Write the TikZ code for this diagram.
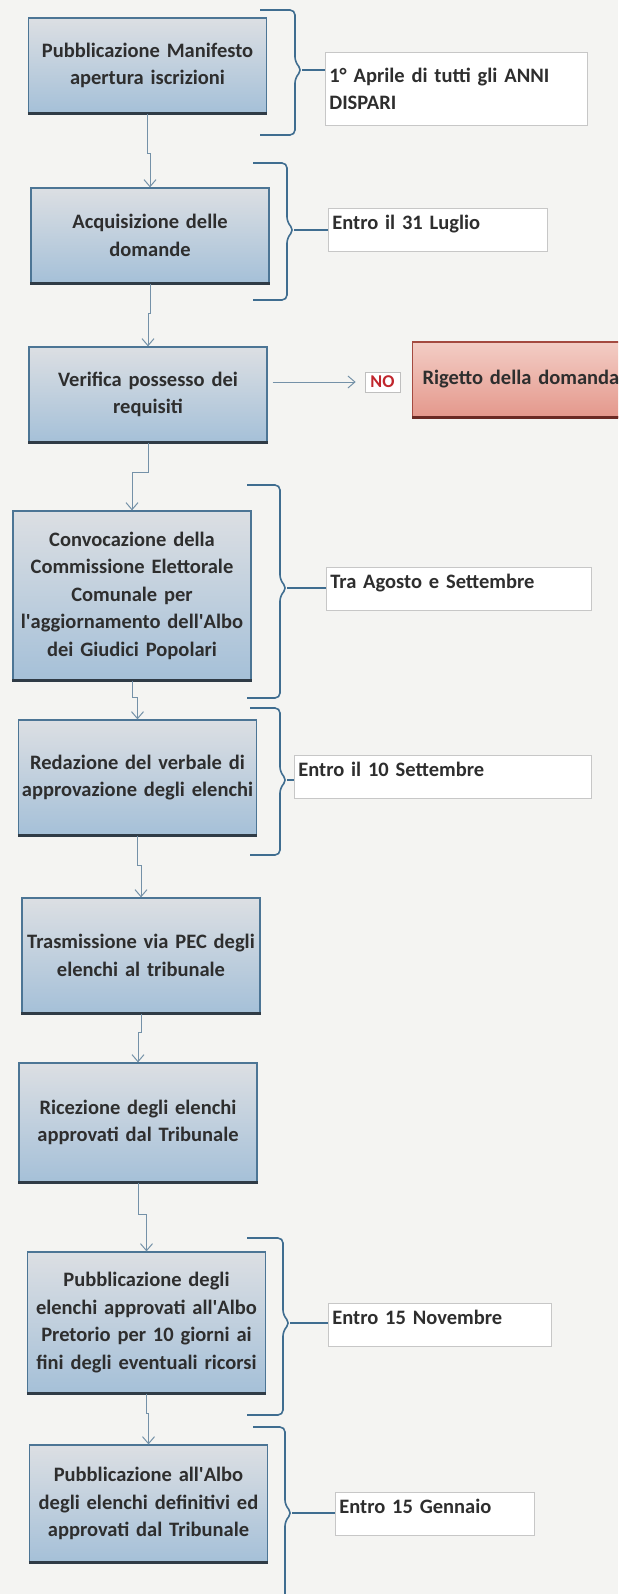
\documentclass[tikz,border=0pt]{standalone}
\usepackage{fontspec}
\setmainfont{Carlito}[WordSpace=0.8]
\usepackage{tikz}
\usetikzlibrary{arrows.meta,calc}
\definecolor{pagebg}{HTML}{F4F4F2}
\definecolor{boxtop}{HTML}{DCDFE3}
\definecolor{boxbot}{HTML}{A5C0D8}
\definecolor{boxline}{HTML}{4C7595}
\definecolor{boxfoot}{HTML}{2F3B46}
\definecolor{rejtop}{HTML}{F3CDC5}
\definecolor{rejbot}{HTML}{E4988C}
\definecolor{rejline}{HTML}{A44A40}
\definecolor{rejfoot}{HTML}{6A2A24}
\definecolor{bracecol}{HTML}{3F6D90}
\definecolor{flowcol}{HTML}{7491A8}
\definecolor{inkgray}{HTML}{2E2E2E}
\definecolor{noRed}{HTML}{C0262D}
\newcommand{\stepfont}{\bfseries\fontsize{20.5}{27.5}\selectfont}
\newcommand{\apo}{\textquotesingle}
\newcommand{\timebrace}[6]{% name, x end, x brace, y top, y tip, y bottom
  \draw[bracestyle,rounded corners=5pt] (#2,#4) -- (#3,#4) -- (#3,{#5-8}) -- ({#3+7},#5) -- (#3,{#5+8}) -- (#3,#6) -- (#2,#6);
  \coordinate (#1) at ({#3+7},#5);}

\begin{document}
\begin{tikzpicture}[x=1pt,y=-1pt,
  stepbox/.style={rectangle,draw=boxline,line width=1.2pt,top color=boxtop,bottom color=boxbot,
    minimum width=238pt,text width=236pt,inner xsep=1pt,align=center,text=inkgray,font=\stepfont},
  datebase/.style={rectangle,draw=black!22,fill=white,line width=0.7pt,anchor=north west,
    align=left,inner xsep=4pt,text=inkgray,font=\stepfont},
  datebox/.style={datebase,inner ysep=4pt,text height=17pt,text depth=18pt},
  rejbox/.style={rectangle,draw=rejline,line width=1.2pt,top color=rejtop,bottom color=rejbot,
    anchor=west,align=left,inner xsep=10pt,text=inkgray,font=\stepfont},
  nobox/.style={rectangle,draw=black!25,fill=white,line width=0.6pt,minimum width=35pt,
    minimum height=20pt,inner sep=1pt,text=noRed,font=\bfseries\fontsize{18}{18}\selectfont},
  flow/.style={draw=flowcol,line width=1pt,-{Straight Barb[length=7pt,width=12pt]}},
  bracestyle/.style={draw=bracecol,line width=1.6pt}]
\useasboundingbox (0,0) rectangle (618,1594);
\fill[pagebg] (0,0) rectangle (618,1594);
\clip (0,0) rectangle (618,1594);

% ---- steps ----
\node[stepbox,minimum height=95pt]  (b1) at (147.5,65.5) {Pubblicazione Manifesto\\apertura iscrizioni};
\node[stepbox,minimum height=95pt]  (b2) at (150,235.5) {Acquisizione delle\\domande};
\node[stepbox,minimum height=95pt]  (b3) at (148,394.5) {Verifica possesso dei\\requisiti};
\node[stepbox,minimum height=169pt] (b4) at (132,595.5) {Convocazione della\\Commissione Elettorale\\Comunale per\\l\apo aggiornamento dell\apo Albo\\dei Giudici Popolari};
\node[stepbox,minimum height=115pt] (b5) at (137.5,777.5) {Redazione del verbale di\\approvazione degli elenchi};
\node[stepbox,minimum height=115pt] (b6) at (141,955.5) {Trasmissione via PEC degli\\elenchi al tribunale};
\node[stepbox,minimum height=119pt] (b7) at (138,1122.5) {Ricezione degli elenchi\\approvati dal Tribunale};
\node[stepbox,minimum height=141pt] (b8) at (146.5,1322.5) {Pubblicazione degli\\elenchi approvati all\apo Albo\\Pretorio per 10 giorni ai\\fini degli eventuali ricorsi};
\node[stepbox,minimum height=117pt] (b9) at (148.5,1503.5) {Pubblicazione all\apo Albo\\degli elenchi definitivi ed\\approvati dal Tribunale};
\foreach \n in {b1,b2,b3,b4,b5,b6,b7,b8,b9}
  \draw[boxfoot,line width=2.6pt] (\n.south west) -- (\n.south east);

% ---- rejection branch ----
\node[nobox] (no) at (382.5,382) {NO};
\node[rejbox,minimum height=75pt,text width=206pt] (rej) at (412,379.5) {Rigetto della domanda};
\draw[rejfoot,line width=2.6pt] (rej.south west) -- (rej.south east);
\draw[flow,shorten <=5pt,shorten >=9pt] (b3.east |- no.west) -- (no.west);

% ---- flow ----
\foreach \a/\b/\d in {b1/b2/40,b2/b3/30,b3/b4/30,b4/b5/17,b5/b6/30,b6/b7/19,b7/b8/32,b8/b9/20}
  \draw[flow] (\a.south) -- ++(0,\d) -| (\b.north);

% ---- deadlines ----
\node[datebase,minimum height=73pt,text width=254pt] (t1) at (325,52) {1° Aprile di tutti gli ANNI\\DISPARI};
\node[datebox,text width=211pt] (t2) at (328,208) {Entro il 31 Luglio};
\node[datebox,text width=257pt] (t4) at (326,567) {Tra Agosto e Settembre};
\node[datebox,text width=289pt] (t5) at (294,755) {Entro il 10 Settembre};
\node[datebox,text width=215pt] (t8) at (328,1303) {Entro 15 Novembre};
\node[datebox,text width=191pt] (t9) at (335,1492) {Entro 15 Gennaio};

\timebrace{k1}{260}{295}{10}{70}{135}
\timebrace{k2}{253}{287}{163}{230}{300}
\timebrace{k4}{247}{280}{485}{588}{698}
\timebrace{k5}{250}{280}{708}{780}{855}
\timebrace{k8}{247}{283}{1238}{1323}{1415}
\timebrace{k9}{253}{285}{1427}{1513}{1630}
\foreach \k/\t in {k1/t1,k2/t2,k4/t4,k5/t5,k8/t8,k9/t9}
  \draw[bracestyle] (\k) -- (\k -| \t.west);
\end{tikzpicture}
\end{document}
